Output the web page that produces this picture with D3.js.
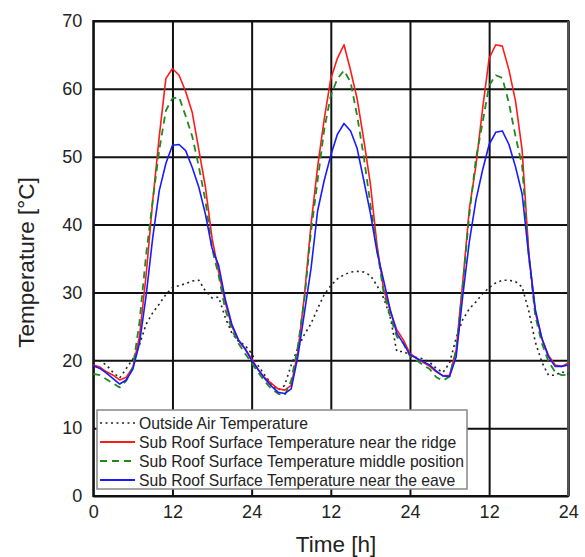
<!DOCTYPE html>
<html>
<head>
<meta charset="utf-8">
<script src="https://cdn.jsdelivr.net/npm/d3@7"></script>
<style>
  body { margin: 0; background: #fff; }
  text { font-family: "Liberation Sans", Arial, sans-serif; fill: #222; }
</style>
</head>
<body>
<div id="graph"></div>
<script>
// hourly readings, 3 days
const hours = d3.range(0, 73)
const tickHours = [0, 12, 24, 36, 48, 60, 72]
const tickLabels = ['0', '12', '24', '12', '24', '12', '24']
const tempTicks = [0, 10, 20, 30, 40, 50, 60, 70]

const outsideAir = [
  20, 19.9, 19.3, 18.2, 17.4, 18.8, 20.2, 22.3, 25.3, 27, 28.3, 29.7, 30.7, 31, 31.3, 31.7, 31.8, 30.2, 29.2, 29.3, 26.3, 24, 22.8, 22.2,
  21, 19.2, 17.8, 16.5, 15.6, 16.3, 19.3, 21.8, 23.8, 25.4, 27.6, 29.7, 31, 32, 32.6, 33, 33.1, 33, 32.5, 31, 29.2, 26.4, 21.3, 21.3,
  20.8, 20.4, 20.2, 19.7, 18.8, 18.2, 19.6, 23.3, 26, 27.6, 28.6, 29.8, 30.7, 31.4, 31.8, 31.8, 31.6, 30.8, 27.3, 22.7, 19.7, 17.8, 17.8, 18.3,
  18
]
const nearRidge = [
  19.3, 19, 18.3, 17.8, 17.1, 17.5, 19, 23.5, 32.5, 43.4, 53, 61.5, 63, 62, 59.6, 56.5, 51, 45.5, 38, 33, 28.5, 25, 23, 21.7,
  20.2, 18.6, 17.4, 16.6, 15.8, 15.6, 16.3, 21.2, 29.5, 40, 48.5, 55.5, 61.5, 64.5, 66.5, 62.7, 58.5, 52.5, 46, 37, 30.5, 27.3, 24.5, 23,
  21, 20.3, 19.7, 19.1, 18.3, 17.7, 17.8, 21.5, 31.5, 42.3, 48.7, 57, 64.5, 66.5, 66.3, 62.8, 58.2, 51, 36, 27, 23.2, 20.7, 19.3, 19.1,
  19.6
]
const middlePos = [
  18, 17.8, 17.2, 16.6, 16, 17, 19, 25.6, 35.5, 43.5, 51, 56.8, 58.6, 58.8, 56, 53, 48.5, 43.5, 36.5, 32.5, 27.5, 24.5, 22.5, 21,
  19.6, 18.2, 16.9, 15.8, 15.1, 14.8, 17, 22, 29, 39, 46.5, 54, 59, 61.5, 62.7, 61, 56, 50, 43, 36.5, 30, 26.5, 23.5, 22.5,
  20.6, 20, 19.3, 18.7, 17.5, 17, 17.6, 21.5, 31, 41.5, 49.7, 55, 60.5, 62, 61.6, 57.9, 53, 48.7, 35.5, 26.5, 22.5, 19.8, 18.3, 17.8,
  17.9
]
const nearEave = [
  19.2, 18.8, 18.1, 17.3, 16.5, 17.1, 18.7, 22.5, 29.5, 38, 45, 49, 51.7, 51.8, 50.9, 48.4, 45.5, 41.5, 36.5, 34, 29, 25.3, 23, 21.7,
  20, 18.6, 17.3, 16.2, 15.3, 15.1, 15.8, 20.5, 27, 33.5, 42, 46.5, 50.2, 53.3, 54.9, 53.8, 51.2, 46.5, 41.7, 36, 31.8, 27.5, 24, 22.5,
  20.8, 20.3, 19.8, 19.3, 18.4, 17.7, 17.6, 20.5, 29.5, 37.5, 43.6, 48, 51.8, 53.6, 53.8, 51.8, 48.5, 44.5, 35.5, 27.5, 23.2, 20.5, 19.1, 19.1,
  19.3
]

const seriesNames = [
  'Outside Air Temperature',
  'Sub Roof Surface Temperature near the ridge',
  'Sub Roof Surface Temperature middle position',
  'Sub Roof Surface Temperature near the eave'
]

const series = [
  {name: seriesNames[0], values: outsideAir, color: '#222', width: 1.6, dash: '2,3.5'},
  {name: seriesNames[1], values: nearRidge, color: '#ff1a1a', width: 1.6, dash: null},
  {name: seriesNames[2], values: middlePos, color: '#1e8a1e', width: 1.8, dash: '7,5'},
  {name: seriesNames[3], values: nearEave, color: '#1a1aff', width: 1.6, dash: null}
]

const W = 585
const H = 557
const m = {left: 93.3, right: 568.3, top: 21, bottom: 496}

const svg = d3.select('#graph')
  .append('svg')
  .attr('width', W)
  .attr('height', H)

const x = d3.scaleLinear().domain([0, 72]).range([m.left, m.right])
const y = d3.scaleLinear().domain([0, 70]).range([m.bottom, m.top])

// grid + tick labels
const yAxis = svg.append('g')
  .attr('transform', `translate(${m.left},0)`)
  .call(d3.axisLeft(y).tickValues(tempTicks).tickSizeInner(-(m.right - m.left)).tickSizeOuter(0).tickPadding(11))
yAxis.select('.domain').remove()
yAxis.selectAll('line').attr('stroke', '#111').attr('stroke-width', 2)
yAxis.selectAll('text').style('font-size', '18px').attr('fill', '#222')

const xAxis = svg.append('g')
  .attr('transform', `translate(0,${m.bottom})`)
  .call(d3.axisBottom(x).tickValues(tickHours).tickFormat((d, i) => tickLabels[i])
    .tickSizeInner(-(m.bottom - m.top)).tickSizeOuter(0).tickPadding(9))
xAxis.select('.domain').remove()
xAxis.selectAll('line').attr('stroke', '#111').attr('stroke-width', 2)
xAxis.selectAll('text').style('font-size', '18px').attr('fill', '#222')

// frame (right edge a bit lighter, as in the scan)
svg.append('rect')
  .attr('x', m.left)
  .attr('y', m.top)
  .attr('width', m.right - m.left)
  .attr('height', m.bottom - m.top)
  .attr('fill', 'none')
  .attr('stroke', '#111')
  .attr('stroke-width', 2)
svg.append('line')
  .attr('x1', m.right).attr('x2', m.right)
  .attr('y1', m.top).attr('y2', m.bottom)
  .attr('stroke', '#555')
  .attr('stroke-width', 2.2)

const line = d3.line()
  .x((d, i) => x(hours[i]))
  .y(d => y(d))

series.forEach(s => {
  svg.append('path')
    .datum(s.values)
    .attr('d', line)
    .attr('fill', 'none')
    .attr('stroke', s.color)
    .attr('stroke-width', s.width)
    .attr('stroke-dasharray', s.dash)
    .attr('stroke-linejoin', 'round')
})

// legend
const lg = svg.append('g')
lg.append('rect')
  .attr('x', 97)
  .attr('y', 410)
  .attr('width', 370)
  .attr('height', 79)
  .attr('fill', '#fff')
  .attr('stroke', '#888')
  .attr('stroke-width', 1.5)

series.forEach((s, i) => {
  const ly = 423 + i * 19
  lg.append('line')
    .attr('x1', 100)
    .attr('x2', 135)
    .attr('y1', ly)
    .attr('y2', ly)
    .attr('stroke', s.color)
    .attr('stroke-width', i === 0 ? 1.6 : 2.2)
    .attr('stroke-dasharray', s.dash)
  lg.append('text')
    .attr('x', 139)
    .attr('y', ly + 5.5)
    .style('font-size', '15.7px')
    .text(s.name)
})

// axis titles
svg.append('text')
  .attr('transform', `translate(34,${(m.top + m.bottom) / 2 + 4}) rotate(-90)`)
  .attr('text-anchor', 'middle')
  .style('font-size', '22.5px')
  .text('Temperature [°C]')

svg.append('text')
  .attr('x', 336)
  .attr('y', 552)
  .attr('text-anchor', 'middle')
  .style('font-size', '22.5px')
  .text('Time [h]')
</script>
</body>
</html>
